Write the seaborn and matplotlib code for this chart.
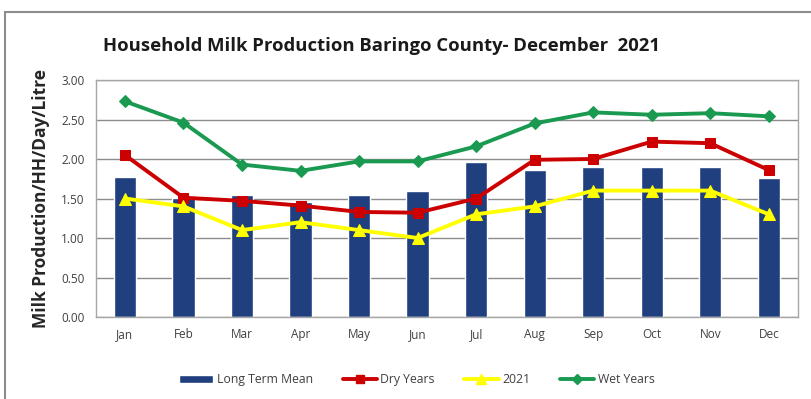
import numpy as np
import pandas as pd
import matplotlib
matplotlib.use("Agg")
import matplotlib.pyplot as plt
import seaborn as sns
from matplotlib.lines import Line2D
from matplotlib.patches import Patch, Rectangle

months = ["Jan", "Feb", "Mar", "Apr", "May", "Jun", "Jul", "Aug", "Sep", "Oct", "Nov", "Dec"]
long_term_mean = [1.77, 1.51, 1.54, 1.45, 1.54, 1.59, 1.96, 1.86, 1.90, 1.90, 1.90, 1.76]
dry_years = [2.05, 1.51, 1.47, 1.41, 1.33, 1.32, 1.50, 1.99, 2.00, 2.22, 2.20, 1.86]
yr_2021 = [1.50, 1.40, 1.10, 1.20, 1.10, 1.00, 1.30, 1.40, 1.60, 1.60, 1.60, 1.30]
wet_years = [2.73, 2.46, 1.93, 1.85, 1.97, 1.97, 2.16, 2.45, 2.59, 2.56, 2.58, 2.54]

BAR_COLOR = "#1f3f7e"
LINES = [
    ("Dry Years", dry_years, "#cc0000", "s", 7),
    ("2021", yr_2021, "#ffff00", "^", 8),
    ("Wet Years", wet_years, "#1a9a50", "D", 6),
]

df = pd.DataFrame({"month": months, "mean": long_term_mean})

sns.set_style("white")
plt.rcParams["font.family"] = ["Open Sans", "DejaVu Sans"]

fig = plt.figure(figsize=(8.11, 3.99), dpi=100)
ax = fig.add_axes([0.118, 0.2055, 0.866, 0.594])

sns.barplot(data=df, x="month", y="mean", order=months, color=BAR_COLOR,
            width=0.38, saturation=1, ax=ax, zorder=2)

pos = np.arange(len(months))
for name, vals, col, mk, ms in LINES:
    sns.lineplot(x=pos, y=vals, color=col, marker=mk, markersize=ms,
                 linewidth=2.8, markeredgecolor=col, ax=ax, zorder=3)

ax.set_xlim(-0.5, 11.5)
ax.set_ylim(0, 3.0)
ax.set_yticks(np.arange(0, 3.01, 0.5))
ax.set_yticklabels([f"{v:.2f}" for v in np.arange(0, 3.01, 0.5)])
ax.yaxis.grid(True, color="#8c8c8c", linewidth=1.0, zorder=0)
ax.set_axisbelow(True)
for s in ax.spines.values():
    s.set_color("#a6a6a6")
    s.set_linewidth(1.0)
ax.tick_params(axis="both", labelsize=8.5, labelcolor="#404040", length=0, pad=8)
ax.set_xlabel("")
ax.set_ylabel("Milk Production/HH/Day/Litre", fontsize=12.5, fontweight="bold",
              color="#262626", labelpad=8)

fig.text(0.127, 0.885, "Household Milk Production Baringo County- December  2021",
         fontsize=13.3, fontweight="bold", color="#1a1a1a", ha="left", va="center")

handles = [Patch(facecolor=BAR_COLOR, label="Long Term Mean")]
for name, vals, col, mk, ms in LINES:
    handles.append(Line2D([0], [0], color=col, marker=mk, markersize=ms - 1,
                          linewidth=2.8, label=name))
fig.legend(handles=handles, loc="center", bbox_to_anchor=(0.514, 0.048), ncol=4,
           frameon=False, fontsize=8.8, handlelength=2.8, columnspacing=2.4,
           handletextpad=0.3, labelcolor="#404040")

fig.patches.append(Rectangle((0.006, -0.01), 1.0, 0.98, transform=fig.transFigure,
                             fill=False, edgecolor="#8c8c8c", linewidth=1.5))

fig.savefig("out.png", dpi=100)
